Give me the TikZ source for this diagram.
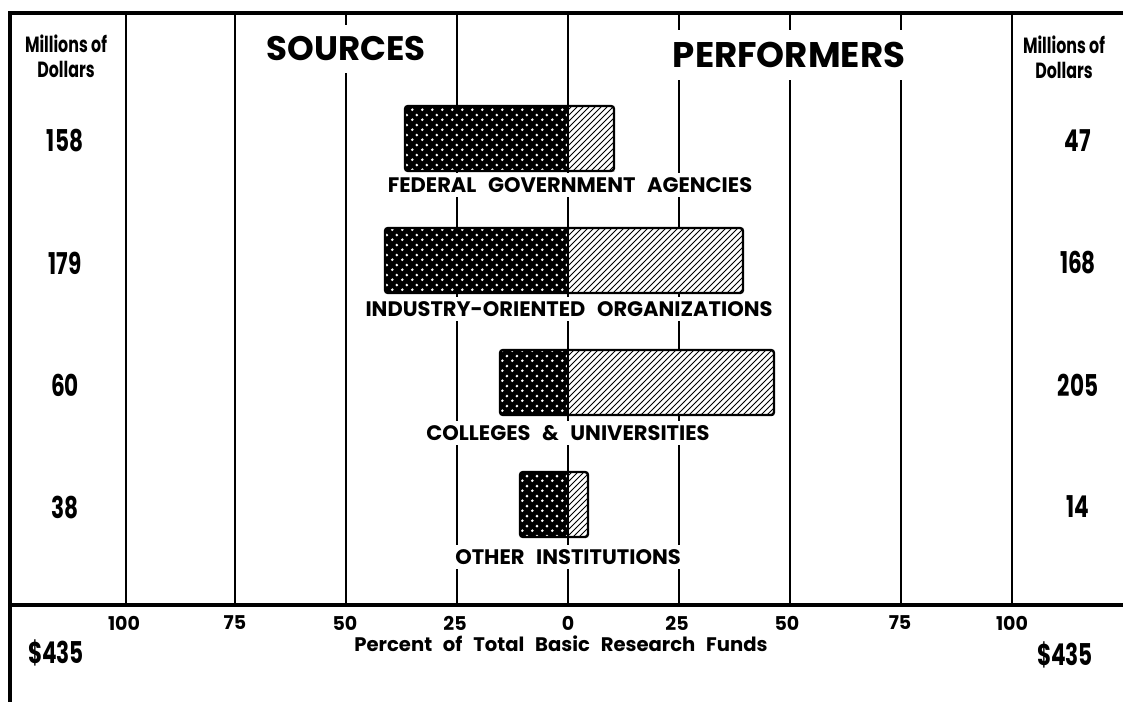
\documentclass[tikz,border=0pt]{standalone}
\usepackage{fontspec}
\setmainfont{Poppins}
\usetikzlibrary{patterns}
% narrow figures, as in the printed chart
\newcommand{\narrow}[1]{\scalebox{0.72}[1]{#1}}
% wider gaps between words
\newcommand{\widewords}{\spaceskip=0.55em\relax}
% coarse white dots for the sources side
\pgfdeclarepatternformonly{coarsedots}{\pgfqpoint{0pt}{0pt}}{\pgfqpoint{5pt}{5pt}}{\pgfqpoint{5pt}{5pt}}{
    \pgfpathcircle{\pgfqpoint{1.25pt}{1.25pt}}{0.8pt}
    \pgfpathcircle{\pgfqpoint{3.75pt}{3.75pt}}{0.8pt}
    \pgfusepath{fill}}

\begin{document}
\begin{tikzpicture}[x=0.5pt,y=-0.5pt,
    frame/.style={line width=1.6pt},
    gridline/.style={line width=1pt},
    title/.style={fill=white,inner xsep=5pt,inner ysep=6pt,font=\bfseries\fontsize{17}{20}\selectfont},
    barlabel/.style={fill=white,inner xsep=3pt,inner ysep=2pt,font=\bfseries\fontsize{10.5}{12}\selectfont\widewords},
    amount/.style={font=\bfseries\fontsize{15}{18}\selectfont},
    unit/.style={align=center,font=\bfseries\fontsize{11}{12.5}\selectfont},
    ticklabel/.style={font=\bfseries\fontsize{9.5}{11}\selectfont},
    scalename/.style={font=\bfseries\fontsize{9.8}{12}\selectfont\widewords},
    srcpart/.style={pattern=coarsedots,pattern color=white},
    perfpart/.style={pattern=north east lines},
    bar/.style={line width=1.2pt,rounded corners=1.5pt}]
\useasboundingbox (0,0) rectangle (1123,702);
%Outer frame and the base line of the scale
\draw[frame] (1123,13) -- (10,13) -- (10,702);
\draw[frame] (10,605) -- (1123,605);
%Vertical lines at 100, 75, 50, 25, 0, 25, 50, 75, 100 percent
\foreach \x in {126,235,346,457,568,679,790,901,1012}
    \draw[gridline] (\x,13) -- (\x,605);

%Headings
\node[title] (sources) at (346,49) {SOURCES};
\node[title,font=\bfseries\fontsize{17.8}{20}\selectfont] (performers) at (789,55) {PERFORMERS};
\node[unit] (unitl) at (66,56) {\narrow{Millions of}\\\narrow{Dollars}};
\node[unit] (unitr) at (1064,57) {\narrow{Millions of}\\\narrow{Dollars}};

%Bars: left edge / right edge / top; sources left of 0, performers right of 0
\foreach \l/\r/\t [count=\i] in {405/614/106,385/743/228,500/774/350,520/588/472}{
    \fill[black] (\l,\t) rectangle (568,\t+65);
    \fill[srcpart] (\l,\t) rectangle (568,\t+65);
    \fill[white] (568,\t) rectangle (\r,\t+65);
    \fill[perfpart] (568,\t) rectangle (\r,\t+65);
    \draw[bar] (\l,\t) rectangle (\r,\t+65);
    \draw[gridline] (568,\t) -- (568,\t+65);
}

%Names of the groups under each bar
\node[barlabel] (fed) at (570,185) {FEDERAL GOVERNMENT AGENCIES};
\node[barlabel] (ind) at (569,309) {INDUSTRY-ORIENTED ORGANIZATIONS};
\node[barlabel] (col) at (568,433) {COLLEGES \& UNIVERSITIES};
\node[barlabel] (oth) at (568,557) {OTHER INSTITUTIONS};

%Amounts, sources on the left and performers on the right
\node[amount] (fedsrc) at (65,141) {\narrow{158}};
\node[amount] (indsrc) at (65,263) {\narrow{179}};
\node[amount] (colsrc) at (65,385) {\narrow{60}};
\node[amount] (othsrc) at (65,507) {\narrow{38}};
\node[amount] (fedperf) at (1078,141) {\narrow{47}};
\node[amount] (indperf) at (1078,263) {\narrow{168}};
\node[amount] (colperf) at (1078,385) {\narrow{205}};
\node[amount] (othperf) at (1078,507) {\narrow{14}};

%Scale
\foreach \x/\v in {124/100,235/75,345/50,455/25,568/0,677/25,787/50,900/75,1012/100}
    \node[ticklabel] (tick\x) at (\x,623) {\v};
\node[scalename] (scalename) at (561,644) {Percent of Total Basic Research Funds};
\node[amount] (totall) at (56,653) {\narrow{\$435}};
\node[amount] (totalr) at (1065,655) {\narrow{\$435}};
\end{tikzpicture}
\end{document}
